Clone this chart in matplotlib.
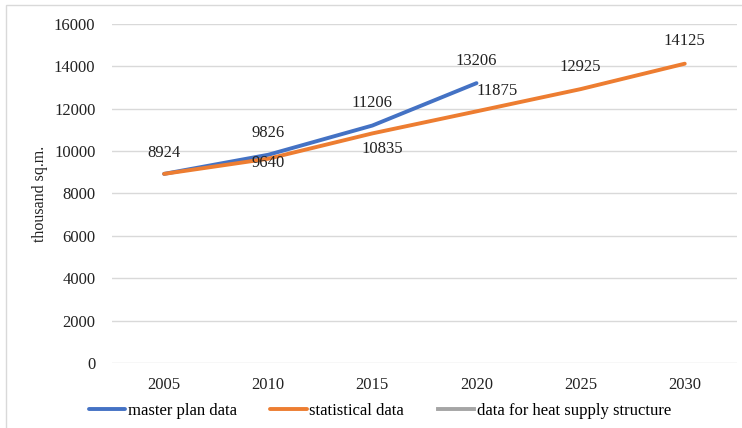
import matplotlib
matplotlib.use("Agg")
import matplotlib.pyplot as plt
from matplotlib.patches import Rectangle

plt.rcParams['font.family'] = ['Liberation Serif', 'DejaVu Serif']

years = ["2005", "2010", "2015", "2020", "2025", "2030"]
master_plan = [8924, 9826, 11206, 13206]
statistical = [8924, 9640, 10835, 11875, 12925, 14125]
heat_supply = [8924]

# label offsets in points (dx, dy)
master_off = [(0, 15), (0, 16), (0, 16), (0, 16)]
stat_off = [(0, 15), (0, -3), (7, -11), (15, 15), (0, 16), (0, 16)]

blue = "#4472C4"
orange = "#ED7D31"
gray = "#A5A5A5"

fig = plt.figure(figsize=(7.42, 4.28), dpi=100)
ax = fig.add_axes([0.151, 0.152, 0.842, 0.792])

x = list(range(len(years)))
ax.plot(x[:len(master_plan)], master_plan, color=blue, lw=2.8,
        solid_capstyle='round', label="master plan data", zorder=3)
ax.plot(x, statistical, color=orange, lw=2.8,
        solid_capstyle='round', label="statistical data", zorder=3)
ax.plot(x[:len(heat_supply)], heat_supply, color=gray, lw=2.8,
        label="data for heat supply structure", zorder=2)

for i, v in enumerate(master_plan):
    ax.annotate(str(v), (i, v), xytext=master_off[i], textcoords='offset points',
                ha='center', va='center', fontsize=12, color='#222222', zorder=5)
for i, v in enumerate(statistical):
    if i == 0:
        continue
    ax.annotate(str(v), (i, v), xytext=stat_off[i], textcoords='offset points',
                ha='center', va='center', fontsize=12, color='#222222', zorder=5)

ax.set_xlim(-0.5, len(years) - 0.5)
ax.set_ylim(0, 16000)
ax.set_yticks(range(0, 16001, 2000))
ax.set_xticks(x)
ax.set_xticklabels(years)
ax.tick_params(axis='both', length=0, labelsize=12, colors='#222222')
ax.tick_params(axis='y', pad=12)
ax.tick_params(axis='x', pad=10)
ax.grid(axis='y', color='#D9D9D9', lw=1)
ax.set_axisbelow(True)
for s in ax.spines.values():
    s.set_visible(False)

fig.text(0.054, 0.547, "thousand sq.m.", rotation=90, ha='center', va='center',
         fontsize=11.5, color='#222222')

fig.legend(loc='center', bbox_to_anchor=(0.512, 0.04), ncol=3, frameon=False,
           fontsize=12, handlelength=2.2, handletextpad=0.15, columnspacing=2.0)

fig.patches.append(Rectangle((6 / 742, -0.1), 1.2, (423 / 428) + 0.1,
                             transform=fig.transFigure, fill=False,
                             edgecolor='#D9D9D9', lw=1))

fig.savefig("out.png", dpi=100)
